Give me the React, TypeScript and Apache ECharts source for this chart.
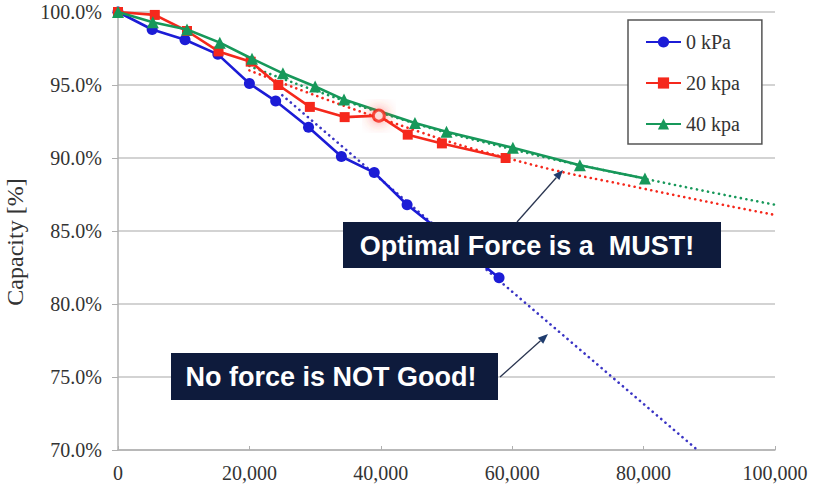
import React, { useEffect, useRef } from "react";
import * as echarts from "echarts";

const xTicks = [0, 20000, 40000, 60000, 80000, 100000];
const seriesNames = ["0 kPa", "20 kpa", "40 kpa"];
const yAxisTitle = "Capacity [%]";

const kpa0X = [0, 5200, 10200, 15200, 20000, 24000, 29000, 34000, 39000, 44000, 58000];
const kpa0Y = [100.0, 98.8, 98.1, 97.1, 95.1, 93.9, 92.1, 90.1, 89.0, 86.8, 81.8];

const kpa20X = [0, 5600, 10500, 15300, 20200, 24400, 29200, 34500, 39700, 44100, 49300, 59000];
const kpa20Y = [100.0, 99.8, 98.7, 97.3, 96.6, 95.0, 93.5, 92.8, 92.9, 91.6, 91.0, 90.0];

const kpa40X = [0, 5300, 10500, 15500, 20400, 25100, 30000, 34400, 45200, 50000, 60100, 70300, 80200];
const kpa40Y = [100.0, 99.3, 98.8, 97.9, 96.8, 95.8, 94.9, 94.0, 92.4, 91.8, 90.7, 89.5, 88.6];

const trend0X = [25000, 88200];
const trend0Y = [94.3, 70.0];
const trend20X = [20000, 40000, 60000, 80000, 100000];
const trend20Y = [96.0, 92.7, 89.9, 87.9, 86.1];
const trend40X = [20000, 40000, 60000, 80000, 100000];
const trend40Y = [96.3, 93.1, 90.6, 88.6, 86.8];

const highlightX = [39700];
const highlightY = [92.9];

const annotations = ["Optimal Force is a  MUST!", "No force is NOT Good!"];

const zip = (xs: number[], ys: number[]) => xs.map((x, i) => [x, ys[i]]);

const BLUE = "#1c1cd6";
const RED = "#f5281c";
const GREEN = "#17985a";
const SERIF = "'Liberation Serif', 'Times New Roman', serif";
const SANS = "'Liberation Sans', Arial, sans-serif";

export default function App() {
  const ref = useRef<HTMLDivElement>(null);
  useEffect(() => {
    const chart = echarts.init(ref.current!, null, { renderer: "svg" });
    const dotted = (color: string) => ({
      width: 2.6,
      color,
      type: [0.1, 5.5] as any,
      cap: "round" as any,
    });
    chart.setOption({
      animation: false,
      backgroundColor: "#ffffff",
      grid: { left: 118, right: 40, top: 12, bottom: 44 },
      legend: {
        data: seriesNames,
        orient: "vertical",
        left: 628,
        top: 20,
        padding: [12, 22, 10, 17],
        itemGap: 21,
        itemWidth: 35,
        itemHeight: 14,
        backgroundColor: "#ffffff",
        borderColor: "#555555",
        borderWidth: 1.5,
        textStyle: { fontFamily: SERIF, fontSize: 20, color: "#333333" },
      },
      xAxis: {
        type: "value",
        min: 0,
        max: 100000,
        interval: 20000,
        axisLine: { show: true, lineStyle: { color: "#b0b0b0", width: 1.5 } },
        axisTick: { show: true, inside: true, length: 4, lineStyle: { color: "#b0b0b0" } },
        splitLine: { show: false },
        axisLabel: {
          margin: 13,
          fontFamily: SERIF,
          fontSize: 20,
          color: "#333333",
          formatter: (v: number) =>
            xTicks.includes(v) ? v.toString().replace(/\B(?=(\d{3})+(?!\d))/g, ",") : "",
        },
      },
      yAxis: {
        type: "value",
        min: 70,
        max: 100,
        interval: 5,
        axisLine: { show: true, lineStyle: { color: "#b0b0b0", width: 1.5 } },
        axisTick: { show: true, length: 6, lineStyle: { color: "#b0b0b0" } },
        splitLine: { show: true, lineStyle: { color: "#c4c4c4", width: 1.5 } },
        axisLabel: {
          margin: 16,
          fontFamily: SERIF,
          fontSize: 20,
          color: "#333333",
          formatter: (v: number) => v.toFixed(1) + "%",
        },
      },
      series: [
        {
          name: "trend0",
          type: "line",
          data: zip(trend0X, trend0Y),
          symbol: "none",
          lineStyle: dotted("#3a34c4"),
          z: 1,
        },
        {
          name: "trend20",
          type: "line",
          data: zip(trend20X, trend20Y),
          smooth: true,
          symbol: "none",
          lineStyle: dotted(RED),
          z: 1,
        },
        {
          name: "trend40",
          type: "line",
          data: zip(trend40X, trend40Y),
          smooth: true,
          symbol: "none",
          lineStyle: dotted(GREEN),
          z: 1,
        },
        {
          name: seriesNames[0],
          type: "line",
          data: zip(kpa0X, kpa0Y),
          symbol: "circle",
          symbolSize: 11,
          itemStyle: { color: BLUE },
          lineStyle: { color: BLUE, width: 2.6 },
          z: 3,
        },
        {
          name: seriesNames[1],
          type: "line",
          data: zip(kpa20X, kpa20Y),
          symbol: "rect",
          symbolSize: 10,
          itemStyle: { color: RED },
          lineStyle: { color: RED, width: 2.6 },
          z: 4,
        },
        {
          name: seriesNames[2],
          type: "line",
          data: zip(kpa40X, kpa40Y),
          symbol: "triangle",
          symbolSize: 12,
          itemStyle: { color: GREEN },
          lineStyle: { color: GREEN, width: 2.6 },
          z: 5,
        },
        {
          name: "highlight",
          type: "scatter",
          data: zip(highlightX, highlightY),
          symbol: "circle",
          symbolSize: 11,
          itemStyle: {
            color: "#ffffff",
            borderColor: RED,
            borderWidth: 3,
            shadowBlur: 14,
            shadowColor: "rgba(255,60,40,0.9)",
          },
          z: 6,
        },
      ],
      graphic: [
        {
          type: "text",
          x: 15,
          y: 242,
          rotation: Math.PI / 2,
          style: {
            text: yAxisTitle,
            fill: "#333333",
            font: `24px ${SERIF}`,
            align: "center",
            verticalAlign: "middle",
          },
        },
        {
          type: "line",
          shape: { x1: 517, y1: 222, x2: 556.4, y2: 177.5 },
          style: { stroke: "#2a3550", lineWidth: 1.3 },
          z: 100,
        },
        {
          type: "polygon",
          shape: { points: [[563, 170], [559.4, 180.1], [553.4, 174.8]] },
          style: { fill: "#1f3c6e" },
          z: 100,
        },
        {
          type: "line",
          shape: { x1: 500, y1: 377, x2: 540.5, y2: 340.7 },
          style: { stroke: "#2a3550", lineWidth: 1.3 },
          z: 100,
        },
        {
          type: "polygon",
          shape: { points: [[548, 334], [543.2, 343.7], [537.8, 337.7]] },
          style: { fill: "#1f3c6e" },
          z: 100,
        },
        {
          type: "rect",
          shape: { x: 343, y: 222, width: 378, height: 46 },
          style: { fill: "#0e1b3c" },
          z: 101,
        },
        {
          type: "text",
          x: 527,
          y: 246,
          style: {
            text: annotations[0],
            fill: "#ffffff",
            font: `bold 27px ${SANS}`,
            align: "center",
            verticalAlign: "middle",
          },
          z: 102,
        },
        {
          type: "rect",
          shape: { x: 171, y: 353, width: 327, height: 47 },
          style: { fill: "#0e1b3c" },
          z: 101,
        },
        {
          type: "text",
          x: 331,
          y: 377,
          style: {
            text: annotations[1],
            fill: "#ffffff",
            font: `bold 27px ${SANS}`,
            align: "center",
            verticalAlign: "middle",
          },
          z: 102,
        },
      ],
    });
    return () => chart.dispose();
  }, []);
  return (
    <div
      ref={ref}
      style={{ position: "fixed", left: 0, top: 0, width: 815, height: 494 }}
    />
  );
}
